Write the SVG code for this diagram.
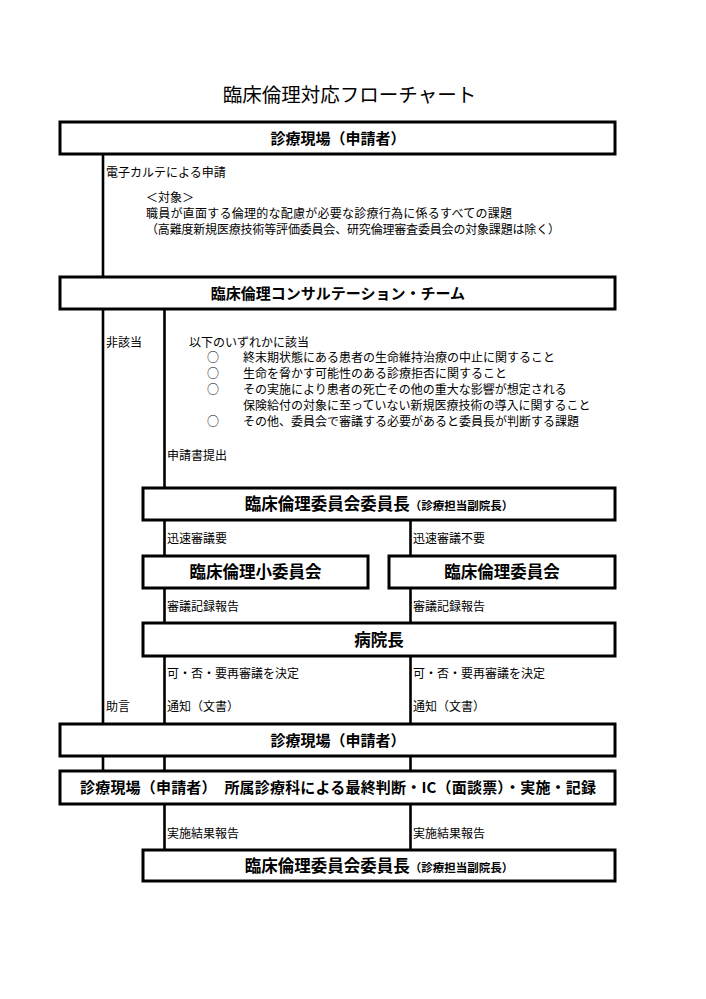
<svg xmlns="http://www.w3.org/2000/svg" width="706" height="999" viewBox="0 0 706 999">
<style>
text{font-family:"Noto Sans CJK JP","Noto Sans",sans-serif;fill:#000}
.t{font-size:12px}
.h{font-size:15px;font-weight:bold;text-anchor:middle}
.hl{font-size:16.5px;font-weight:bold;text-anchor:middle}
.hs{font-size:11.5px}
.title{font-size:19.5px;text-anchor:middle}
.box{fill:#fff;stroke:#000;stroke-width:3}
.ln{stroke:#000;stroke-width:2.6;fill:none}
</style>
<rect width="706" height="999" fill="#fff"/>
<text class="title" x="349.5" y="102.4">臨床倫理対応フローチャート</text>

<g id="connectors">
<path class="ln" d="M103 154V277M103 309V724M103 756V771"/>
<path class="ln" d="M164.5 309V488M164.5 520V556M164.5 588V623M164.5 656V724M164.5 756V771M164.5 804V850"/>
<path class="ln" d="M410.5 520V556M410.5 588V623M410.5 656V724M410.5 756V771M410.5 804V850"/>
</g>

<g id="labels">
<text class="t" x="106" y="176.5">電子カルテによる申請</text>
<text class="t" x="146" y="201.5">＜対象＞</text>
<text class="t" x="146" y="217.5" textLength="366">職員が直面する倫理的な配慮が必要な診療行為に係るすべての課題</text>
<text class="t" x="146" y="233.5" textLength="414">（高難度新規医療技術等評価委員会、研究倫理審査委員会の対象課題は除く）</text>
<text class="t" x="106" y="346.5">非該当</text>
<text class="t" x="189" y="346.5">以下のいずれかに該当</text>
<text class="t" x="207" y="362">○</text>
<text class="t" x="243" y="362">終末期状態にある患者の生命維持治療の中止に関すること</text>
<text class="t" x="207" y="378">○</text>
<text class="t" x="243" y="378">生命を脅かす可能性のある診療拒否に関すること</text>
<text class="t" x="207" y="394">○</text>
<text class="t" x="243" y="394">その実施により患者の死亡その他の重大な影響が想定される</text>
<text class="t" x="243" y="410">保険給付の対象に至っていない新規医療技術の導入に関すること</text>
<text class="t" x="207" y="426">○</text>
<text class="t" x="243" y="426">その他、委員会で審議する必要があると委員長が判断する課題</text>
<text class="t" x="167" y="459.5">申請書提出</text>
<text class="t" x="167" y="542.5">迅速審議要</text>
<text class="t" x="413" y="542.5">迅速審議不要</text>
<text class="t" x="167" y="610.5">審議記録報告</text>
<text class="t" x="413" y="610.5">審議記録報告</text>
<text class="t" x="167" y="677.5">可・否・要再審議を決定</text>
<text class="t" x="413" y="677.5">可・否・要再審議を決定</text>
<text class="t" x="106" y="710.5">助言</text>
<text class="t" x="167" y="710.5">通知（文書）</text>
<text class="t" x="413" y="710.5">通知（文書）</text>
<text class="t" x="167" y="837.5">実施結果報告</text>
<text class="t" x="413" y="837.5">実施結果報告</text>
</g>

<g id="node-genba1">
<rect class="box" x="60" y="122" width="555" height="32"/>
<text class="h" x="338" y="143.7">診療現場（申請者）</text>
</g>
<g id="node-team">
<rect class="box" x="60" y="277" width="555" height="32"/>
<text class="h" x="338" y="298.7">臨床倫理コンサルテーション・チーム</text>
</g>
<g id="node-chair1">
<rect class="box" x="143" y="488" width="472" height="32"/>
<text class="hl" x="379" y="510.3">臨床倫理委員会委員長<tspan class="hs">（診療担当副院長）</tspan></text>
</g>
<g id="node-subcommittee">
<rect class="box" x="143" y="556" width="225" height="32"/>
<text class="hl" x="255.5" y="578.3">臨床倫理小委員会</text>
</g>
<g id="node-committee">
<rect class="box" x="389" y="556" width="226" height="32"/>
<text class="hl" x="502" y="578.3">臨床倫理委員会</text>
</g>
<g id="node-director">
<rect class="box" x="143" y="623" width="472" height="33"/>
<text class="hl" x="379" y="645.8">病院長</text>
</g>
<g id="node-genba2">
<rect class="box" x="60" y="724" width="555" height="32"/>
<text class="h" x="338" y="745.7">診療現場（申請者）</text>
</g>
<g id="node-final">
<rect class="box" x="60" y="771" width="555" height="33"/>
<text class="h" x="338" y="793.2" textLength="516">診療現場（申請者）　所属診療科による最終判断・IC（面談票）・実施・記録</text>
</g>
<g id="node-chair2">
<rect class="box" x="143" y="850" width="472" height="31"/>
<text class="hl" x="379" y="871.8">臨床倫理委員会委員長<tspan class="hs">（診療担当副院長）</tspan></text>
</g>
</svg>
